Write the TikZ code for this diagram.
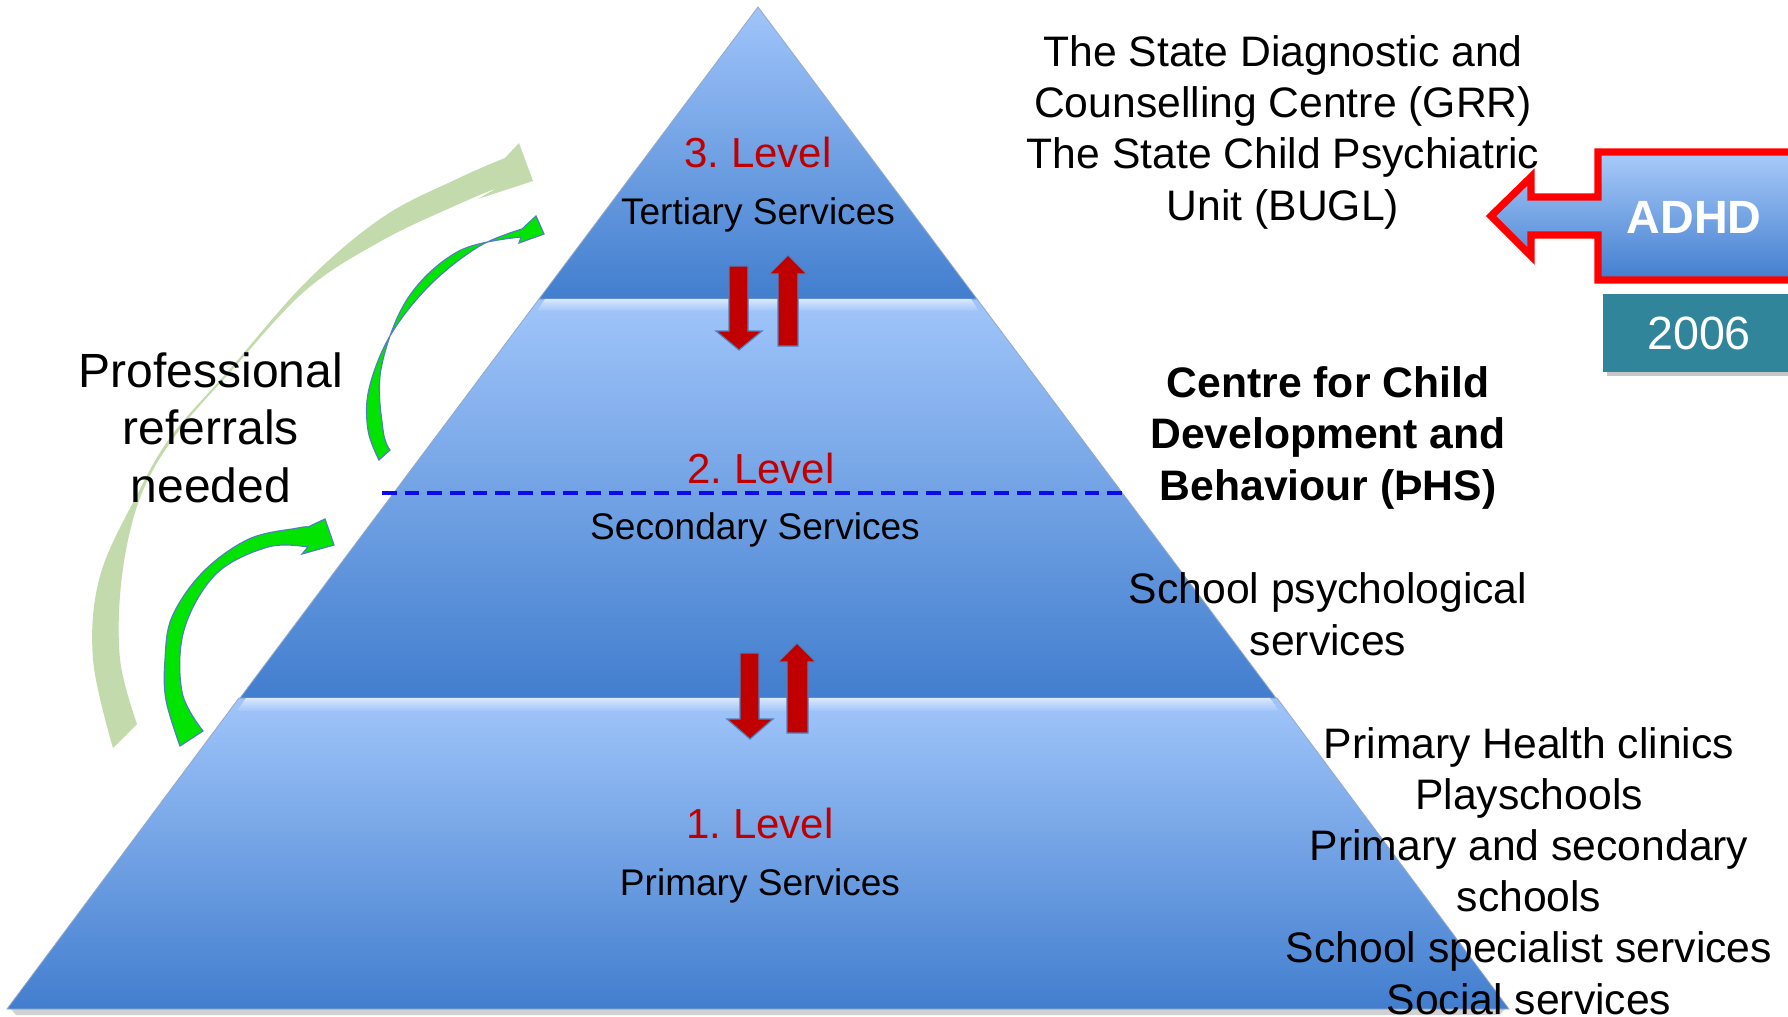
\documentclass[tikz,border=0pt]{standalone}
\usepackage{fontspec}
\setmainfont{Liberation Sans}
\frenchspacing

\definecolor{lvlred}{RGB}{192,0,0}
\definecolor{pyrlight}{RGB}{160,197,250}
\definecolor{pyrdark}{RGB}{66,126,206}
\definecolor{gloss}{RGB}{240,247,255}
\definecolor{brightgreen}{RGB}{0,228,0}
\definecolor{palegreen}{RGB}{188,214,163}
\definecolor{edgeblue}{RGB}{79,129,189}
\definecolor{yearteal}{RGB}{49,133,155}
\definecolor{dashblue}{RGB}{10,10,235}

\tikzset{every picture/.style={line width=0.75pt},
  tier/.style={top color=pyrlight, bottom color=pyrdark, draw=pyrlight!60!gray, line width=0.6pt},
  shine/.style={top color=pyrlight!40!white, middle color=gloss, bottom color=pyrlight},
  updown/.style={fill=lvlred, draw=edgeblue, line width=0.9pt},
  bentarrow/.style={fill=brightgreen, draw=edgeblue, line width=0.9pt},
  lvl/.style={text=lvlred, font=\fontsize{31.5}{37}\selectfont, inner sep=0pt, anchor=base},
  svc/.style={font=\fontsize{27.8}{33}\selectfont, inner sep=0pt, anchor=base},
  side/.style={font=\fontsize{32}{38.3}\selectfont, align=center, inner sep=0pt, anchor=base},
  sidebold/.style={side, font=\fontsize{32}{38.3}\selectfont\bfseries},
  sidebig/.style={side, font=\fontsize{36}{43}\selectfont}
}

\begin{document}
\begin{tikzpicture}[x=0.75pt,y=0.75pt,yscale=-1,xscale=1]
\useasboundingbox (0,0) rectangle (1788,1017);

%Shadow under the base
\fill[black!18] (11,1009) -- (1505,1009) -- (1500,1015) -- (16,1015) -- cycle;

%Pyramid tiers (bottom, middle, top)
\path[tier] (239,698) -- (1277,698) -- (1509,1009) -- (7,1009) -- cycle;
\path[tier] (539,299) -- (977,299) -- (1276,698) -- (240,698) -- cycle;
\path[tier] (758,7) -- (977,299) -- (539,299) -- cycle;

%Glossy edges on top of the lower tiers
\shade[shine] (545,299) -- (971,299) -- (979,311) -- (537,311) -- cycle;
\shade[shine] (246,698) -- (1270,698) -- (1279,711) -- (237,711) -- cycle;

%Dashed split of level 2
\draw[dashblue, line width=3.2pt, dash pattern=on 11pt off 6pt] (382,493) -- (1123,493);

%Red arrows between levels
\draw[updown] (729,266) -- (748,266) -- (748,331) -- (762,331) -- (739,350) -- (716,331) -- (729,331) -- cycle;
\draw[updown] (778,346) -- (798,346) -- (798,274) -- (807,274) -- (788,255) -- (769,274) -- (778,274) -- cycle;
\draw[updown] (740,653) -- (759,653) -- (759,719) -- (773,719) -- (750,739) -- (727,719) -- (740,719) -- cycle;
\draw[updown] (787,733) -- (808,733) -- (808,662) -- (816,662) -- (797,643) -- (778,662) -- (787,662) -- cycle;

%Long pale referral arrow
\fill[palegreen, opacity=0.9] plot[smooth, tension=0.6] coordinates {(113,748) (93,659) (100,576) (138,493) (172,435) (230,369) (306,282) (383,217) (459,178) (505,158)}
  -- (519,143) -- (533,181) -- (478,199) -- (497,188)
  -- plot[smooth, tension=0.6] coordinates {(497,188) (459,204) (383,240) (306,290) (232,370) (175,436) (140,498) (122,576) (120,659) (137,724)} -- cycle;

%Short referral arrows
\draw[bentarrow] plot[smooth, tension=0.6] coordinates {(379,460) (368,430) (369,389) (390,336) (429,286) (478,247) (522,229)}
  -- (536,216) -- (544,234) -- (519,243) -- (521,237)
  -- plot[smooth, tension=0.6] coordinates {(521,237) (459,251) (408,298) (381,369) (383,430) (390,450)} -- cycle;
\draw[bentarrow] plot[smooth, tension=0.6] coordinates {(180,746) (166,700) (165,660) (172,617) (203,572) (249,539) (298,528) (308,527)}
  -- (325,519) -- (334,545) -- (302,554) -- (308,547)
  -- plot[smooth, tension=0.6] coordinates {(308,547) (268,547) (216,574) (184,630) (182,692) (203,731)} -- cycle;

%Level labels
\node[lvl] (lvlthree) at (758,167) {3. Level};
\node[svc] (tertiary) at (758,224) {Tertiary Services};
\node[lvl] (lvltwo) at (761,483) {2. Level};
\node[svc] (secondary) at (755,539) {Secondary Services};
\node[lvl] (lvlone) at (760,838) {1. Level};
\node[svc] (primary) at (760,895) {Primary Services};

%Side texts (anchored on their last line)
\node[sidebig] (referrals) at (211,502) {Professional\\referrals\\needed};
\node[side] (tertiarylist) at (1283,220) {The State Diagnostic and\\Counselling Centre (GRR)\\The State Child Psychiatric\\Unit (BUGL)};
\node[sidebold] (centre) at (1328,500) {Centre for Child\\Development and\\Behaviour (ÞHS)};
\node[side] (schoolpsych) at (1328,655) {School psychological\\services};
\node[side] (primarylist) at (1529,1014) {Primary Health clinics\\Playschools\\Primary and secondary\\schools\\School specialist services\\Social services};

%ADHD callout pointing left
\draw[red, line width=5.5pt, top color=pyrlight!90!white, bottom color=pyrdark] (1800,152) -- (1598,152) -- (1598,197) -- (1531,197) -- (1531,177) -- (1491,216) -- (1531,256) -- (1531,235) -- (1598,235) -- (1598,280) -- (1800,280) -- cycle;
\node[white, font=\fontsize{35}{42}\selectfont\bfseries, inner sep=0pt, anchor=base] (adhd) at (1694,233) {ADHD};

%Year box
\fill[black!22] (1607,298) rectangle (1799,376);
\node[fill=yearteal, text=white, font=\fontsize{35}{42}\selectfont, minimum width=144pt, minimum height=58.5pt, inner sep=0pt] (year) at (1699,333) {2006};

\end{tikzpicture}
\end{document}
